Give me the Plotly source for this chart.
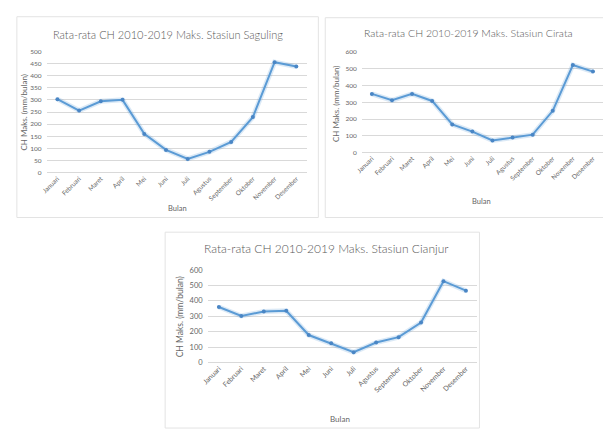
import plotly.graph_objects as go

# Monthly maximum rainfall (mm/bulan), average 2010-2019
bulan = ["Januari", "Februari", "Maret", "April", "Mei", "Juni", "Juli",
         "Agustus", "September", "Oktober", "November", "Desember"]
saguling = [303, 256, 294, 300, 160, 94, 57, 86, 127, 229, 455, 437]
cirata = [350, 312, 350, 308, 168, 125, 72, 90, 107, 249, 522, 483]
cianjur = [360, 302, 331, 336, 178, 124, 66, 129, 164, 259, 528, 466]

titles = ["Rata-rata CH 2010-2019 Maks. Stasiun Saguling",
          "Rata-rata CH 2010-2019 Maks. Stasiun Cirata",
          "Rata-rata CH 2010-2019 Maks. Stasiun Cianjur"]
y_title = "CH Maks. (mm/bulan)"
x_title = "Bulan"

W, H = 603, 435
FONT = "Lato"
LINE = "#5B9BD5"
GLOW = "rgba(91,155,213,0.22)"
GRID = "#D9D9D9"
TXT = "#666666"


def px(x):
    return x / W


def py(y):
    return 1 - y / H


# panel layout in pixels: plot area, y range, tick step, font sizes, label spots
panels = [
    dict(data=saguling, xd=(40, 303.7), yd=(172.3, 48.3), ymax=500, dt=50,
         tickfs=6.5, ytickfs=6.5, title_xy=(163, 31), title_fs=11,
         ytitle_xy=(17, 111), ytitle_fs=8, xtitle_xy=(172, 209), xtitle_fs=7.5,
         box=(10, 13, 315, 218)),
    dict(data=cirata, xd=(359, 603), yd=(151.7, 49), ymax=600, dt=100,
         tickfs=6.5, ytickfs=6.5, title_xy=(466.7, 30), title_fs=10.5,
         ytitle_xy=(333, 102), ytitle_fs=8, xtitle_xy=(480, 202), xtitle_fs=7.5,
         box=(322, 14, 606, 218)),
    dict(data=cianjur, xd=(203, 475.7), yd=(366, 271.7), ymax=600, dt=100,
         tickfs=7, ytickfs=7.5, title_xy=(323, 250), title_fs=12,
         ytitle_xy=(175, 319), ytitle_fs=8.5, xtitle_xy=(337, 424), xtitle_fs=8,
         box=(160, 233, 478, 433)),
]

fig = go.Figure()
annotations = []
shapes = []
layout_axes = {}

for i, p in enumerate(panels, start=1):
    xa = "x" if i == 1 else f"x{i}"
    ya = "y" if i == 1 else f"y{i}"
    # soft halo under the series line
    fig.add_trace(go.Scatter(x=bulan, y=p["data"], mode="lines",
                             line=dict(color=GLOW, width=5),
                             xaxis=xa, yaxis=ya, hoverinfo="skip",
                             showlegend=False))
    fig.add_trace(go.Scatter(x=bulan, y=p["data"], mode="lines+markers",
                             line=dict(color=LINE, width=2),
                             marker=dict(color="#4A86C5", size=4),
                             xaxis=xa, yaxis=ya, showlegend=False))

    xkey = "xaxis" if i == 1 else f"xaxis{i}"
    ykey = "yaxis" if i == 1 else f"yaxis{i}"
    layout_axes[xkey] = dict(
        domain=[px(p["xd"][0]), min(1, px(p["xd"][1]))],
        anchor=ya, type="category", range=[-0.5, 11.5],
        tickangle=-45, showgrid=False, showline=False, zeroline=False,
        ticks="", tickfont=dict(family=FONT, size=p["tickfs"], color=TXT),
        fixedrange=True)
    layout_axes[ykey] = dict(
        domain=[py(p["yd"][0]), py(p["yd"][1])],
        anchor=xa, range=[0, p["ymax"]], dtick=p["dt"], tick0=0,
        showgrid=True, gridcolor=GRID, gridwidth=1,
        zeroline=True, zerolinecolor=GRID, zerolinewidth=1,
        showline=False, ticks="", ticklabelstandoff=4,
        tickfont=dict(family=FONT, size=p["ytickfs"], color=TXT),
        fixedrange=True)

    # chart titles, axis titles
    annotations.append(dict(text=titles[i - 1], x=px(p["title_xy"][0]),
                            y=py(p["title_xy"][1]), xref="paper", yref="paper",
                            showarrow=False, xanchor="center", yanchor="middle",
                            font=dict(family=FONT, size=p["title_fs"],
                                      color="#595959", weight=300)))
    annotations.append(dict(text=y_title, x=px(p["ytitle_xy"][0]),
                            y=py(p["ytitle_xy"][1]), xref="paper", yref="paper",
                            showarrow=False, textangle=-90,
                            xanchor="center", yanchor="middle",
                            font=dict(family=FONT, size=p["ytitle_fs"], color=TXT)))
    annotations.append(dict(text=x_title, x=px(p["xtitle_xy"][0]),
                            y=py(p["xtitle_xy"][1]), xref="paper", yref="paper",
                            showarrow=False, xanchor="center", yanchor="middle",
                            font=dict(family=FONT, size=p["xtitle_fs"], color=TXT)))

    # chart frame
    x0, y0, x1, y1 = p["box"]
    shapes.append(dict(type="rect", xref="paper", yref="paper",
                       x0=px(x0), x1=px(x1), y0=py(y1), y1=py(y0),
                       line=dict(color="#E3E3E3", width=1), layer="below"))

fig.update_layout(
    width=W, height=H,
    margin=dict(l=0, r=0, t=0, b=0),
    paper_bgcolor="white", plot_bgcolor="white",
    annotations=annotations, shapes=shapes,
    showlegend=False,
    **layout_axes,
)

fig.write_html("out.html", config={"displayModeBar": False})
